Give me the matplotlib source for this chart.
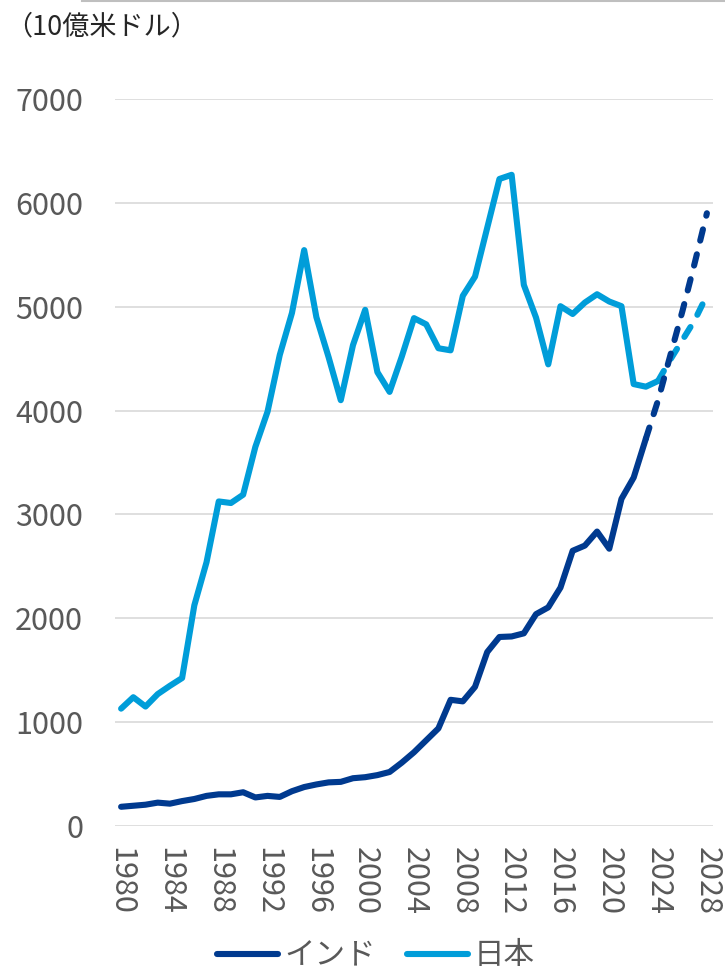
import numpy as np
import matplotlib
matplotlib.use("Agg")
import matplotlib.pyplot as plt
from matplotlib.lines import Line2D

plt.rcParams['font.family'] = ['Noto Sans CJK JP', 'DejaVu Sans']

# --- data (billion USD) ---
years = list(range(1980, 2029))
india = [185, 195, 205, 225, 215, 240, 260, 290, 305, 305,
         325, 275, 290, 280, 335, 375, 400, 420, 425, 460,
         470, 490, 520, 610, 710, 825, 940, 1215, 1200, 1340,
         1675, 1820, 1825, 1855, 2040, 2105, 2295, 2650, 2700, 2835,
         2670, 3150, 3355, 3730, 4100, 4530, 4960, 5420, 5900]
japan = [1130, 1240, 1150, 1270, 1350, 1425, 2125, 2540, 3125, 3110,
         3190, 3650, 3990, 4535, 4940, 5545, 4900, 4515, 4100, 4630,
         4970, 4370, 4180, 4520, 4890, 4830, 4600, 4580, 5105, 5290,
         5760, 6230, 6270, 5210, 4895, 4445, 5005, 4930, 5040, 5120,
         5050, 5005, 4255, 4230, 4285, 4490, 4680, 4870, 5110]
india_last_actual = 2023
japan_last_actual = 2024
series_names = ['インド', '日本']
unit_label = '（10億米ドル）'
yticks = [0, 1000, 2000, 3000, 4000, 5000, 6000, 7000]
xtick_years = list(range(1980, 2029, 4))

c_india = '#003A8F'
c_japan = '#009DD9'
grey_txt = '#595959'

fig = plt.figure(figsize=(7.25, 9.74), dpi=100)
ax = fig.add_axes([115 / 725, 148 / 974, 598 / 725, 727 / 974])

x = np.arange(len(years))
lw = 4.4
dash = (0, (1.9, 2.3))


def draw(vals, last, color, z):
    k = years.index(last)
    ax.plot(x[:k + 1], vals[:k + 1], color=color, lw=lw,
            solid_capstyle='round', solid_joinstyle='round', zorder=z)
    ax.plot(x[k:], vals[k:], color=color, lw=lw, linestyle=dash,
            dash_capstyle='round', zorder=z)


draw(japan, japan_last_actual, c_japan, 3)
draw(india, india_last_actual, c_india, 4)

ax.set_xlim(-0.5, len(years) - 0.5)
ax.set_ylim(0, 7000)
ax.set_yticks(yticks)
ax.set_yticklabels([str(v) for v in yticks])
ax.set_xticks([years.index(y) for y in xtick_years])
ax.set_xticklabels([str(y) for y in xtick_years], rotation=-90)

ax.grid(axis='y', color='#d9d9d9', lw=1.2)
ax.set_axisbelow(True)
for s in ax.spines.values():
    s.set_visible(False)
ax.tick_params(axis='both', length=0, labelsize=22, labelcolor=grey_txt)
ax.tick_params(axis='y', pad=23)
ax.tick_params(axis='x', pad=15)

fig.text(5 / 725, 1 - 27 / 974, unit_label, fontsize=19.5,
         color='#262626', va='center', ha='left')

# thin frame line at the very top
fig.add_artist(Line2D([82 / 725, 1], [0.999, 0.999], color='#bfbfbf', lw=1.5,
                      transform=fig.transFigure))

handles = [Line2D([], [], color=c_india, lw=lw, solid_capstyle='round'),
           Line2D([], [], color=c_japan, lw=lw, solid_capstyle='round')]
leg = fig.legend(handles, series_names, loc='center',
                 bbox_to_anchor=(376 / 725, 18 / 974), ncol=2, frameon=False,
                 fontsize=22, handlelength=2.0, handletextpad=0.2,
                 columnspacing=1.0, borderpad=0.1)
for t in leg.get_texts():
    t.set_color(grey_txt)

fig.savefig('out.png', dpi=100)
